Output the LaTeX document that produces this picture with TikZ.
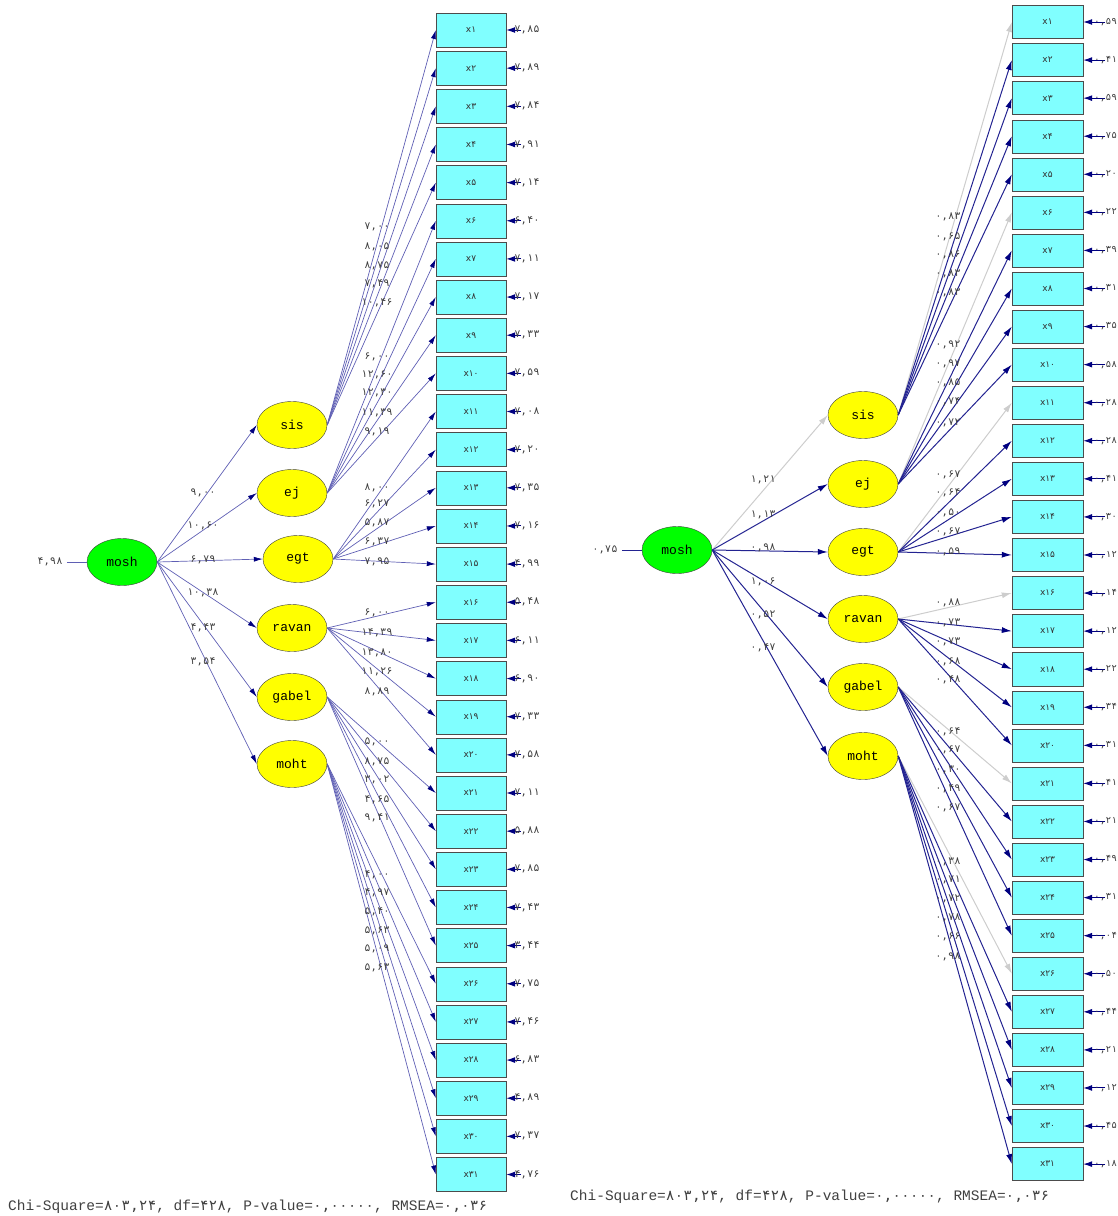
\documentclass[tikz,border=0pt]{standalone}
\usepackage{fontspec}
\setmonofont{Liberation Mono}
\newfontfamily\fadig{DejaVu Sans Mono}
\newfontfamily\fasans{DejaVu Sans}
\usetikzlibrary{arrows.meta,shapes.geometric}

\definecolor{lvcyan}{RGB}{128,255,255}
\definecolor{lvyellow}{RGB}{255,255,0}
\definecolor{lvgreen}{RGB}{0,255,0}
\definecolor{lvnavy}{RGB}{0,0,128}
\definecolor{lvline}{RGB}{95,95,180}
\definecolor{lvdark}{RGB}{35,35,145}
\definecolor{lvgray}{RGB}{205,205,205}

\tikzset{
  latent/.style={ellipse, draw=black!75, fill=lvyellow, minimum width=70pt,
    minimum height=47pt, inner sep=0pt, font=\ttfamily\fontsize{13}{13}\selectfont},
  exo/.style={latent, fill=lvgreen},
  obs/.style={rectangle, draw=black!70, fill=lvcyan, minimum width=70pt,
    minimum height=34pt, inner sep=0pt, text=black!80,
    font=\fasans\fontsize{9}{9}\selectfont},
  num/.style={inner sep=0pt, text=black!75, font=\fadig\fontsize{10.5}{10.5}\selectfont},
  thinpath/.style={lvline, line width=0.7pt, -{Latex[length=9pt,width=5pt,color=lvnavy]}},
  boldpath/.style={lvdark, line width=1pt, -{Latex[length=10pt,width=6pt,color=lvnavy]}},
  fixedpath/.style={lvgray, line width=1pt, -{Latex[length=10pt,width=6pt]}},
  errpath/.style={lvnavy, line width=1pt, -{Latex[length=9pt,width=6pt]}},
}

\begin{document}
\begin{tikzpicture}[x=1pt,y=-1pt]
  \useasboundingbox (0,0) rectangle (1118,1216);

  % ---------- left: t-values ----------
  \node[exo] (lmosh) at (122,562) {mosh};
  \node[latent] (lsis) at (292,425) {sis};
  \node[latent] (lej) at (292,493) {ej};
  \node[latent] (legt) at (298,559) {egt};
  \node[latent] (lravan) at (292,628) {ravan};
  \node[latent] (lgabel) at (292,697) {gabel};
  \node[latent] (lmoht) at (292,764) {moht};

  \foreach \n [count=\i] in {۱,۲,۳,۴,۵,۶,۷,۸,۹,۱۰,۱۱,۱۲,۱۳,۱۴,۱۵,۱۶,۱۷,۱۸,۱۹,۲۰,
      ۲۱,۲۲,۲۳,۲۴,۲۵,۲۶,۲۷,۲۸,۲۹,۳۰,۳۱}
    \node[obs] (lx\i) at (471,{30+(\i-1)*38.15}) {x\n};

  \coordinate (lme) at ([xshift=-20pt]lmosh.west);
  \draw[lvline, line width=0.9pt] (lme) -- (lmosh.west);
  \node[num, anchor=east] (lmen) at ([xshift=-4pt]lme) {۴,۹۸};

  \foreach \dst in {lsis,lej,legt,lravan,lgabel,lmoht}
    \draw[thinpath] (lmosh.east) -- (\dst.west);
  \foreach \v/\y [count=\i] in {{۹,۰۰}/493,{۱۰,۶۰}/526,{۶,۷۹}/560,{۱۰,۳۸}/593,
      {۴,۴۳}/628,{۳,۵۴}/662}
    \node[num] (lg\i) at (203,\y) {\v};

  \foreach \src/\first/\last in {lsis/1/5,lej/6/10,legt/11/15,lravan/16/20,
      lgabel/21/25,lmoht/26/31}
    \foreach \i in {\first,...,\last}
      \draw[thinpath] (\src.east) -- (lx\i.west);

  \foreach \v/\y [count=\i] in {{۷,۰۰}/227,{۸,۰۵}/247,{۸,۷۵}/266,{۷,۴۹}/284,{۱۰,۴۶}/303,
      {۶,۰۰}/357,{۱۲,۶۰}/375,{۱۲,۳۰}/393,{۱۱,۳۹}/413,{۹,۱۹}/432,
      {۸,۰۰}/488,{۶,۲۷}/504,{۵,۸۷}/523,{۶,۳۷}/542,{۷,۹۵}/562,
      {۶,۰۰}/613,{۱۴,۳۹}/633,{۱۳,۸۰}/653,{۱۱,۲۶}/672,{۸,۸۹}/692,
      {۵,۰۰}/742,{۸,۷۵}/762,{۳,۰۲}/780,{۴,۶۵}/800,{۹,۴۱}/818,
      {۴,۰۰}/875,{۴,۹۷}/893,{۵,۴۰}/912,{۵,۶۳}/931,{۵,۰۹}/949,{۵,۶۳}/968}
    \node[num] (lt\i) at (377,\y) {\v};

  \foreach \e [count=\i] in {{۷,۸۵},{۷,۸۹},{۷,۸۴},{۷,۹۱},{۷,۱۴},{۶,۴۰},{۷,۱۱},{۷,۱۷},
      {۷,۳۳},{۷,۵۹},{۷,۰۸},{۷,۲۰},{۷,۳۵},{۷,۱۶},{۴,۹۹},{۵,۴۸},{۶,۱۱},{۶,۹۰},
      {۷,۳۳},{۷,۵۸},{۷,۱۱},{۵,۸۸},{۷,۸۵},{۷,۴۳},{۳,۴۴},{۷,۷۵},{۷,۴۶},{۶,۸۳},
      {۴,۸۹},{۷,۳۷},{۴,۷۶}} {
    \coordinate (le\i) at ([xshift=15pt]lx\i.east);
    \draw[errpath] (le\i) -- (lx\i.east);
    \node[num, anchor=west] (len\i) at ([xshift=8pt]lx\i.east) {\e};
  }

  \node[anchor=west, inner sep=0pt, text=black!75, font=\ttfamily\fontsize{14.5}{14.5}\selectfont]
    (lchi) at (8,1207) {Chi-Square={\fadig ۸۰۳,۲۴}, df={\fadig ۴۲۸}, P-value={\fadig ۰,۰۰۰۰۰}, RMSEA={\fadig ۰,۰۳۶}};

  % ---------- right: standardized ----------
  \node[exo] (rmosh) at (677,550) {mosh};
  \node[latent] (rsis) at (863,415) {sis};
  \node[latent] (rej) at (863,484) {ej};
  \node[latent] (regt) at (863,552) {egt};
  \node[latent] (rravan) at (863,619) {ravan};
  \node[latent] (rgabel) at (863,687) {gabel};
  \node[latent] (rmoht) at (863,756) {moht};

  \foreach \n [count=\i] in {۱,۲,۳,۴,۵,۶,۷,۸,۹,۱۰,۱۱,۱۲,۱۳,۱۴,۱۵,۱۶,۱۷,۱۸,۱۹,۲۰,
      ۲۱,۲۲,۲۳,۲۴,۲۵,۲۶,۲۷,۲۸,۲۹,۳۰,۳۱}
    \node[obs, minimum width=71pt, minimum height=33pt] (rx\i) at (1047.5,{22+(\i-1)*38.07}) {x\n};

  \coordinate (rme) at ([xshift=-20pt]rmosh.west);
  \draw[lvdark, line width=1pt] (rme) -- (rmosh.west);
  \node[num, anchor=east] (rmen) at ([xshift=-4pt]rme) {۰,۷۵};

  \draw[fixedpath] (rmosh.east) -- (rsis.west);
  \foreach \dst in {rej,regt,rravan,rgabel,rmoht}
    \draw[boldpath] (rmosh.east) -- (\dst.west);
  \foreach \v/\y [count=\i] in {{۱,۲۱}/480,{۱,۱۳}/515,{۰,۹۸}/548,{۱,۰۶}/582,
      {۰,۵۲}/615,{۰,۴۷}/648}
    \node[num] (rg\i) at (763,\y) {\v};

  \foreach \src/\first/\last in {rsis/1/5,rej/6/10,regt/11/15,rravan/16/20,
      rgabel/21/25,rmoht/26/31} {
    \draw[fixedpath] (\src.east) -- (rx\first.west);
    \pgfmathtruncatemacro\nxt{\first+1}
    \foreach \i in {\nxt,...,\last}
      \draw[boldpath] (\src.east) -- (rx\i.west);
  }

  \foreach \v/\y [count=\i] in {{۰,۸۳}/217,{۰,۶۵}/237,{۰,۸۶}/255,{۰,۸۳}/274,{۰,۸۳}/293,
      {۰,۹۲}/345,{۰,۹۷}/364,{۰,۸۵}/383,{۰,۷۴}/402,{۰,۷۲}/423,
      {۰,۶۷}/475,{۰,۶۴}/493,{۰,۵۰}/513,{۰,۶۷}/532,{۰,۵۹}/552,
      {۰,۸۸}/603,{۰,۷۳}/623,{۰,۷۳}/642,{۰,۶۸}/662,{۰,۴۸}/680,
      {۰,۶۴}/732,{۰,۶۷}/750,{۰,۳۰}/770,{۰,۴۹}/789,{۰,۶۷}/808,
      {۰,۳۸}/862,{۰,۷۱}/880,{۰,۷۲}/899,{۰,۷۸}/918,{۰,۶۶}/937,{۰,۹۸}/957}
    \node[num] (rt\i) at (948,\y) {\v};

  \foreach \e [count=\i] in {{۰,۵۹},{۰,۴۱},{۰,۵۹},{۰,۷۵},{۰,۲۰},{۰,۲۲},{۰,۳۹},{۰,۳۱},
      {۰,۳۵},{۰,۵۸},{۰,۲۸},{۰,۲۸},{۰,۴۱},{۰,۳۰},{۰,۱۲},{۰,۱۴},{۰,۱۲},{۰,۲۲},
      {۰,۳۴},{۰,۳۱},{۰,۴۱},{۰,۲۱},{۰,۴۹},{۰,۳۱},{۰,۰۴},{۰,۵۰},{۰,۴۴},{۰,۲۱},
      {۰,۱۲},{۰,۴۵},{۰,۱۸}} {
    \coordinate (re\i) at ([xshift=22pt]rx\i.east);
    \draw[errpath] (re\i) -- (rx\i.east);
    \node[num, anchor=east, font=\fadig\fontsize{9.5}{9.5}\selectfont] (ren\i)
      at ([xshift=34pt]rx\i.east) {\e};
  }

  \node[anchor=west, inner sep=0pt, text=black!75, font=\ttfamily\fontsize{14.5}{14.5}\selectfont]
    (rchi) at (570,1197) {Chi-Square={\fadig ۸۰۳,۲۴}, df={\fadig ۴۲۸}, P-value={\fadig ۰,۰۰۰۰۰}, RMSEA={\fadig ۰,۰۳۶}};
\end{tikzpicture}
\end{document}
